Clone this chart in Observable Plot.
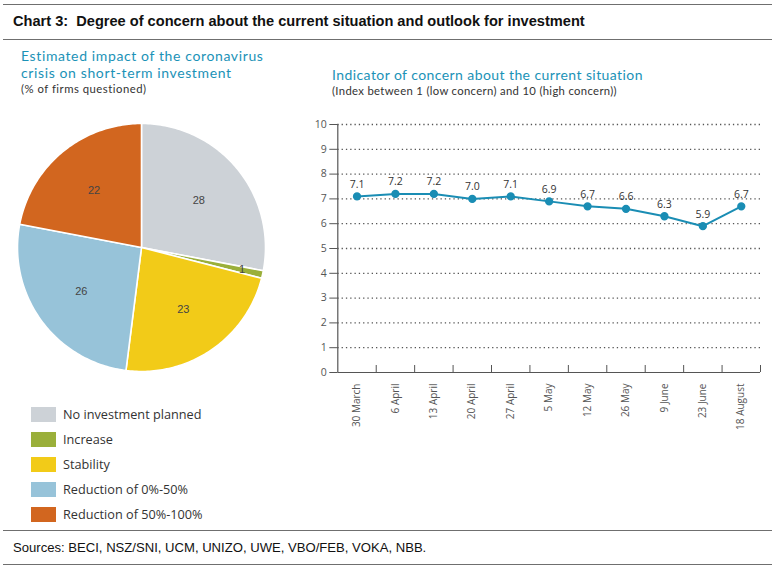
<!DOCTYPE html>
<html>
<head>
<meta charset="utf-8">
<script src="https://cdn.jsdelivr.net/npm/d3@7"></script>
<script src="https://cdn.jsdelivr.net/npm/@observablehq/plot@0.6"></script>
<style>
  html, body { margin: 0; padding: 0; background: #fff; }
  #root { position: relative; width: 775px; height: 570px; overflow: hidden; font-family: "Open Sans", sans-serif; }
  .abs { position: absolute; white-space: nowrap; }
  .rule { position: absolute; left: 3px; width: 769px; height: 0; border-top: 1.5px solid #6f6f6f; }
  .title { font-family: "Liberation Sans", Arial, sans-serif; font-weight: bold; font-size: 14.6px; color: #111; white-space: pre; }
  .sub { font-family: Lato, sans-serif; color: #1b92b7; font-size: 14px; line-height: 1.2; }
  .note { font-family: Lato, sans-serif; color: #333; font-size: 11.3px; line-height: 1.2; }
  .leg-row { position: absolute; left: 31px; height: 16px; display: flex; align-items: center; }
  .leg-sw { width: 25px; height: 15px; margin-right: 7px; }
  .leg-tx { font-size: 12.7px; color: #333; }
  .src { font-family: "Liberation Sans", Arial, sans-serif; font-size: 13.1px; color: #111; }
</style>
</head>
<body>
<div id="root"></div>
<script>
// ---- Data ----
const pieCategories = ["No investment planned", "Increase", "Stability", "Reduction of 0%-50%", "Reduction of 50%-100%"];
const pieValues = [28, 1, 23, 26, 22];
const pieColors = ["#cdd2d7", "#9aaf3a", "#f2cb18", "#97c3d9", "#d2661f"];

const lineDates = ["30 March", "6 April", "13 April", "20 April", "27 April", "5 May", "12 May", "26 May", "9 June", "23 June", "18 August"];
const lineValues = [7.1, 7.2, 7.2, 7.0, 7.1, 6.9, 6.7, 6.6, 6.3, 5.9, 6.7];
const yTicks = [0, 1, 2, 3, 4, 5, 6, 7, 8, 9, 10];

const titleText = "Chart 3:  Degree of concern about the current situation and outlook for investment";
const pieTitle = ["Estimated impact of the coronavirus", "crisis on short-term investment"];
const pieNote = "(% of firms questioned)";
const lineTitle = "Indicator of concern about the current situation";
const lineNote = "(Index between 1 (low concern) and 10 (high concern))";
const sourceText = "Sources: BECI, NSZ/SNI, UCM, UNIZO, UWE, VBO/FEB, VOKA, NBB.";

const root = document.getElementById("root");
function add(html, cls, style) {
  const d = document.createElement("div");
  d.className = cls;
  d.style.cssText = style;
  d.innerHTML = html;
  root.appendChild(d);
  return d;
}

// ---- Header ----
add("", "rule", "top:4px;");
add(titleText, "abs title", "left:13px; top:13px;");
add("", "rule", "top:39px;");
add(pieTitle[0], "abs sub", "left:21px; top:48px; letter-spacing:0.62px;");
add(pieTitle[1], "abs sub", "left:21px; top:65px; letter-spacing:0.62px;");
add(pieNote, "abs note", "left:21px; top:82.2px; letter-spacing:0.5px;");
add(lineTitle, "abs sub", "left:332px; top:66.5px; letter-spacing:0.42px;");
add(lineNote, "abs note", "left:332px; top:84px; letter-spacing:0.33px;");

// ---- Pie (polygons built from the values) ----
const total = d3.sum(pieValues);
const slices = [];
const labels = [];
let acc = 0;
pieValues.forEach((v, i) => {
  const a0 = acc / total * 2 * Math.PI;
  acc += v;
  const a1 = acc / total * 2 * Math.PI;
  const steps = Math.max(2, Math.ceil((a1 - a0) / (Math.PI / 180)));
  slices.push({cat: pieCategories[i], x: 0, y: 0});
  for (let k = 0; k <= steps; k++) {
    const a = a0 + (a1 - a0) * k / steps;
    slices.push({cat: pieCategories[i], x: Math.sin(a), y: Math.cos(a)});
  }
  const mid = (a0 + a1) / 2;
  const r = v < 3 ? 0.83 : 0.6;
  labels.push({cat: pieCategories[i], value: v, x: r * Math.sin(mid), y: r * Math.cos(mid)});
});

const pie = Plot.plot({
  width: 290,
  height: 280,
  marginLeft: 17,
  marginRight: 25,
  marginTop: 16,
  marginBottom: 16,
  x: {domain: [-1, 1], axis: null},
  y: {domain: [-1, 1], axis: null},
  color: {domain: pieCategories, range: pieColors},
  style: {background: "transparent", overflow: "visible"},
  marks: [
    Plot.line(slices, {x: "x", y: "y", z: "cat", fill: "cat", stroke: "#fff", strokeWidth: 1.6, curve: "linear-closed"}),
    Plot.text(labels, {x: "x", y: "y", text: d => String(d.value), fill: "#444", fontSize: 11, fontFamily: "Liberation Sans, Arial, sans-serif"})
  ]
});
pie.style.position = "absolute";
pie.style.left = "0px";
pie.style.top = "107px";
root.appendChild(pie);

// ---- Legend ----
pieCategories.forEach((c, i) => {
  add(`<div class="leg-sw" style="background:${pieColors[i]}"></div><div class="leg-tx">${c}</div>`, "leg-row", `top:${406 + i * 25}px;`);
});

// ---- Line chart ----
const lineData = lineDates.map((d, i) => ({date: d, i: i + 0.5, value: lineValues[i]}));
const n = lineDates.length;
const line = Plot.plot({
  width: 485,
  height: 340,
  marginLeft: 47.3,
  marginRight: 15,
  marginTop: 24,
  marginBottom: 68,
  x: {domain: [0, n]},
  y: {domain: [0, 10]},
  style: {background: "transparent", overflow: "visible", fontFamily: "Open Sans, sans-serif", fontSize: "10px", color: "#555"},
  marks: [
    Plot.ruleY(yTicks.filter(t => t > 0), {stroke: "#555", strokeWidth: 1.3, strokeDasharray: "1.3,3"}),
    Plot.axisY({ticks: yTicks, tickSize: 8, tickPadding: 3, tickFormat: d => String(d), fontSize: 10.5, stroke: "#555", color: "#555", label: null}),
    Plot.axisX({ticks: d3.range(1, n + 1), tickSize: -7, tickFormat: () => "", stroke: "#555", label: null}),
    Plot.axisX({ticks: lineData.map(d => d.i), tickSize: 0, tickPadding: 11, tickRotate: -90, tickFormat: v => lineDates[Math.floor(v)], fontSize: 10, color: "#555", label: null}),
    Plot.ruleX([0], {stroke: "#555", strokeWidth: 1.2}),
    Plot.ruleY([0], {stroke: "#555", strokeWidth: 1.2}),
    Plot.line(lineData, {x: "i", y: "value", stroke: "#1a8db4", strokeWidth: 2}),
    Plot.dot(lineData, {x: "i", y: "value", r: 3.4, fill: "#1a8db4", stroke: "#1a8db4"}),
    Plot.text(lineData, {x: "i", y: "value", text: d => d.value.toFixed(1), dy: -12, fill: "#333", fontSize: 10.5})
  ]
});
line.style.position = "absolute";
line.style.left = "290px";
line.style.top = "100px";
root.appendChild(line);

// ---- Footer ----
add("", "rule", "top:530px;");
add(sourceText, "abs src", "left:13px; top:540px;");
add("", "rule", "top:564px;");
</script>
</body>
</html>
